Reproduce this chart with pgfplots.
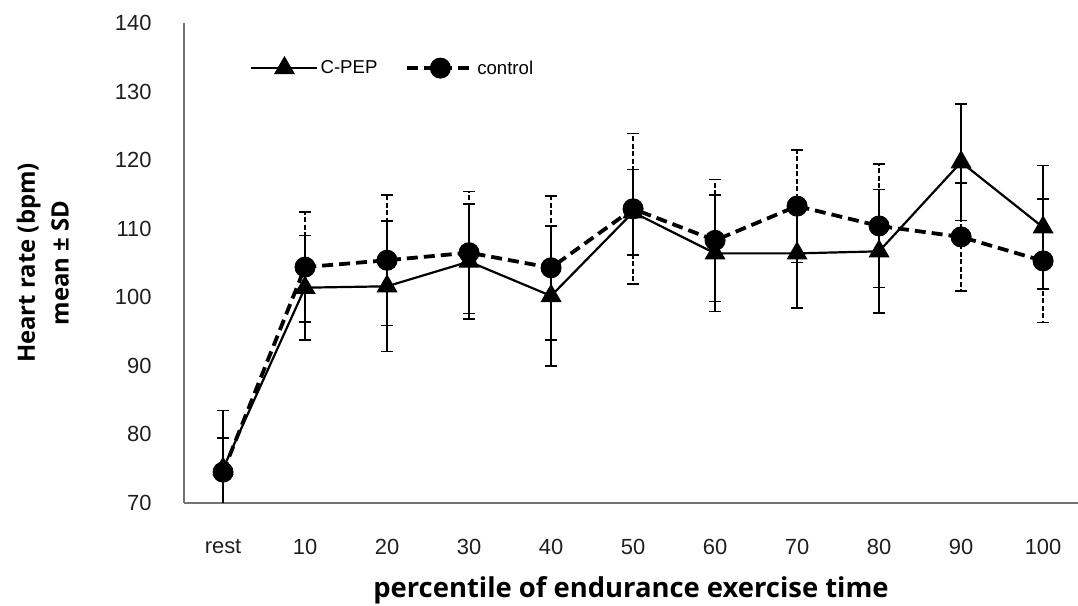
\documentclass[border=0pt]{standalone}
\usepackage{fontspec}
\setmainfont{Liberation Sans}
\newfontfamily\labelfont{Open Sans}
\usepackage{pgfplots}
\pgfplotsset{compat=1.18}
\begin{document}
\begin{tikzpicture}[x=1bp,y=1bp]
\path[use as bounding box] (0,0) rectangle (1078,606);
\begin{axis}[
  at={(184bp,103bp)}, anchor=south west,
  scale only axis, width=894bp, height=480bp,
  xmin=-0.476, xmax=10.426, ymin=70, ymax=140,
  axis lines*=left,
  axis line style={draw=black!55, line width=1.5bp},
  xtick={0,...,10}, xticklabels={rest,10,20,30,40,50,60,70,80,90,100},
  ytick={70,80,...,140},
  major tick length=0pt,
  tick label style={font=\fontsize{22}{26}\selectfont, text=black!88},
  /pgf/number format/assume math mode=true,
  yticklabel style={xshift=-29bp},
  xticklabel style={yshift=-33bp},
  xlabel={percentile of endurance exercise time},
  ylabel={Heart rate (bpm)\\mean ± SD},
  xlabel style={at={(axis description cs:0.5,-0.181)}, anchor=center, font=\labelfont\bfseries\fontsize{27.5}{32}\selectfont},
  ylabel style={at={(axis description cs:-0.158,0.5)}, anchor=center, align=center, font=\labelfont\bfseries\fontsize{24}{34}\selectfont},
  legend style={at={(axis description cs:0.074,0.906)}, anchor=west, draw=none, fill=none, inner sep=0pt,
    font=\fontsize{18.7}{22}\selectfont, /tikz/every even column/.append style={column sep=26bp}},
  legend columns=2,
  legend cell align=left,
  legend image code/.code={\draw[mark repeat=2,mark phase=2,#1] plot coordinates {(0bp,0bp)(33bp,0bp)(66bp,0bp)};},
]
\addplot[black, line width=2.2bp, mark=triangle*, mark size=10bp, mark options={solid},
  error bars/.cd, y dir=both, y explicit,
  error bar style={line width=1.5bp, solid},
  error mark options={rotate=90, mark size=6bp, line width=1.5bp, solid}]
coordinates {
(0,75) +- (0,8.5)
(1,101.4) +- (0,7.6)
(2,101.6) +- (0,9.5)
(3,105.2) +- (0,8.4)
(4,100.2) +- (0,10.2)
(5,112.4) +- (0,6.2)
(6,106.4) +- (0,8.5)
(7,106.4) +- (0,8)
(8,106.7) +- (0,9)
(9,119.7) +- (0,8.5)
(10,110.2) +- (0,9)
};
\addlegendentry{C-PEP}
\addplot[black, line width=3.8bp, dash pattern=on 11bp off 6bp, mark=*, mark size=10bp, mark options={solid, line width=1bp},
  error bars/.cd, y dir=both, y explicit,
  error bar style={line width=1.5bp, dash pattern=on 5bp off 2.5bp},
  error mark options={rotate=90, mark size=6bp, line width=1.5bp, solid}]
coordinates {
(0,74.5) +- (0,5)
(1,104.4) +- (0,8)
(2,105.4) +- (0,9.5)
(3,106.5) +- (0,8.9)
(4,104.3) +- (0,10.5)
(5,112.9) +- (0,11)
(6,108.3) +- (0,8.9)
(7,113.3) +- (0,8.2)
(8,110.4) +- (0,9)
(9,108.8) +- (0,7.9)
(10,105.3) +- (0,9)
};
\addlegendentry{control}
\end{axis}
\end{tikzpicture}
\end{document}
